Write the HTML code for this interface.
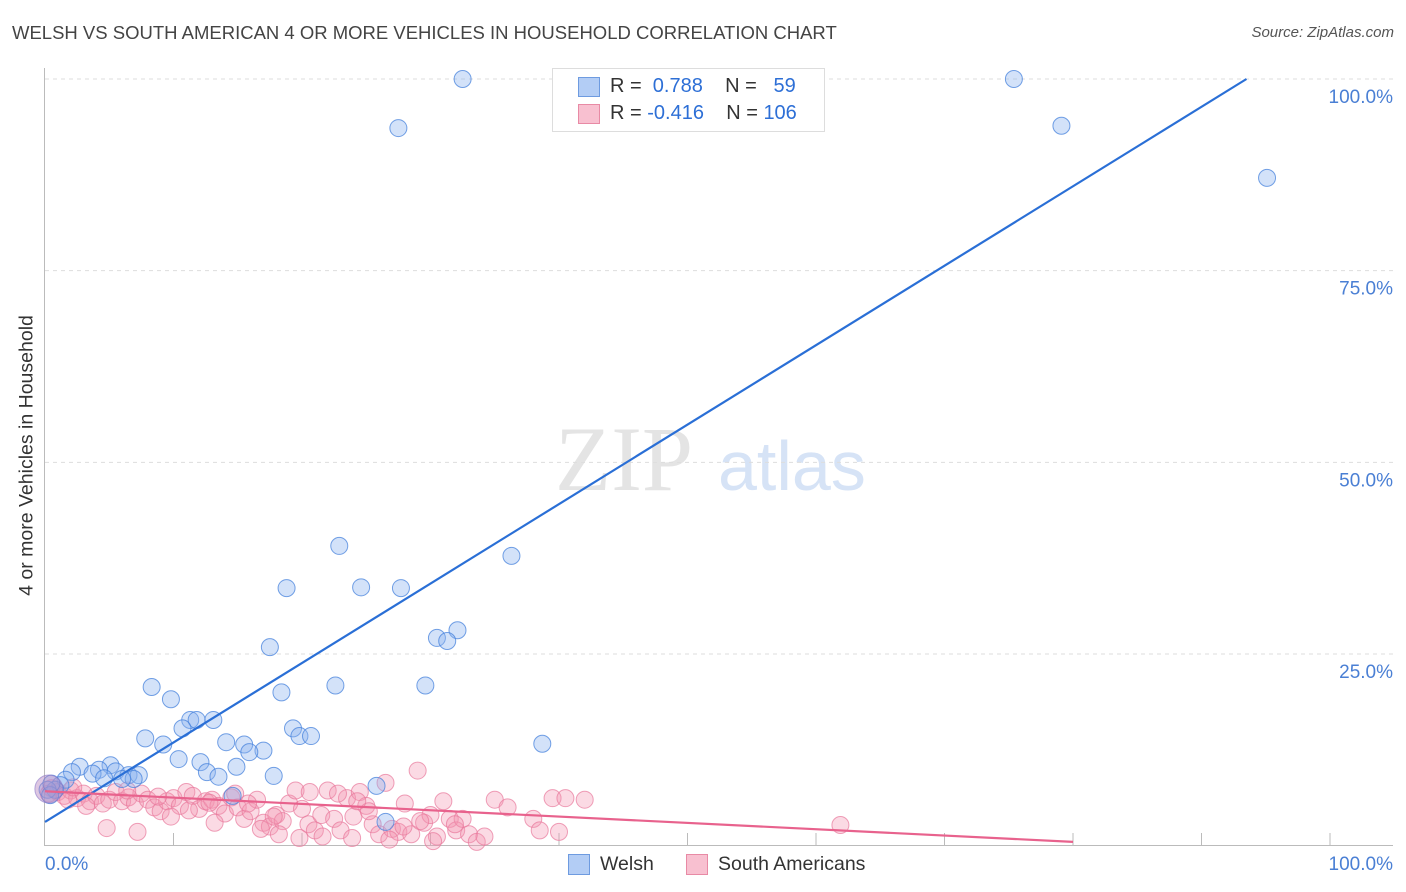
<!DOCTYPE html>
<html><head><meta charset="utf-8"><style>
body{margin:0;background:#fff;font-family:"Liberation Sans",sans-serif}
#wrap{position:relative;width:1406px;height:892px;overflow:hidden}
.t{position:absolute;white-space:nowrap}
</style></head><body>
<div id="wrap">
<div class="t" style="left:12px;top:22px;font-size:18.5px;color:#444">WELSH VS SOUTH AMERICAN 4 OR MORE VEHICLES IN HOUSEHOLD CORRELATION CHART</div>
<div class="t" style="right:12px;top:24px;font-size:15px;color:#555;font-style:italic">Source: ZipAtlas.com</div>
<div class="t" style="left:-123px;top:444px;font-size:19.5px;color:#333;transform:rotate(-90deg);width:300px;text-align:center">4 or more Vehicles in Household</div>
<svg id="svg" width="1406" height="892" style="position:absolute;left:0;top:0"></svg>
<div style="position:absolute;left:552px;top:68px;width:271px;height:62px;border:1px solid #ddd;background:#fff">
 <div style="position:absolute;left:25px;top:8px;width:20px;height:18px;background:#b3cdf5;border:1px solid #6e9be0"></div>
 <div class="t" style="left:57px;top:6px;font-size:20px;color:#333">R = <span style="color:#2d6fd6">&nbsp;0.788</span>&nbsp;&nbsp;&nbsp; N = <span style="color:#2d6fd6">&nbsp;&nbsp;59</span></div>
 <div style="position:absolute;left:25px;top:35px;width:20px;height:18px;background:#f8c0d0;border:1px solid #e88aa5"></div>
 <div class="t" style="left:57px;top:33px;font-size:20px;color:#333">R = <span style="color:#2d6fd6">-0.416</span>&nbsp;&nbsp;&nbsp; N = <span style="color:#2d6fd6">106</span></div>
</div>
<div>
 <div style="position:absolute;left:568px;top:854px;width:20px;height:19px;background:#b3cdf5;border:1px solid #6e9be0"></div>
 <div class="t" style="left:600px;top:853px;font-size:19.5px;color:#333">Welsh</div>
 <div style="position:absolute;left:686px;top:854px;width:20px;height:19px;background:#f8c0d0;border:1px solid #e88aa5"></div>
 <div class="t" style="left:718px;top:853px;font-size:19.5px;color:#333">South Americans</div>
</div>
</div>
<script>
const yTicks=[25,50,75,100];
const yTickLabels=["25.0%","50.0%","75.0%","100.0%"];
const xEndLabels=["0.0%","100.0%"];
const welshX=[32.5,27.5,75.4,79.1,95.1,22.9,36.3,18.8,24.6,27.7,32.1,30.5,31.3,17.5,8.3,9.8,22.6,18.4,29.6,11.3,11.8,13.1,10.7,19.3,19.8,20.7,7.8,9.2,14.1,15.5,17.0,38.7,15.9,10.4,12.1,14.9,12.6,13.5,17.8,5.1,2.7,4.2,2.1,3.7,5.5,6.5,7.3,6.9,6.0,4.6,1.6,1.2,0.8,0.2,25.8,14.6,26.5,0.4,0.5];
const welshY=[100,93.6,100,93.9,87.1,39.1,37.8,33.6,33.7,33.6,28.1,27.1,26.7,25.9,20.7,19.1,20.9,20.0,20.9,16.4,16.4,16.4,15.3,15.3,14.3,14.3,14.0,13.2,13.5,13.2,12.4,13.3,12.2,11.3,10.9,10.3,9.6,9.0,9.1,10.5,10.3,9.9,9.6,9.4,9.7,9.2,9.2,8.7,8.7,8.8,8.6,7.9,7.3,7.3,7.8,6.5,3.1,6.6,8.1];
const saX=[0.5,1,1.5,2,2.5,3,3.5,4,4.5,5,5.5,6,6.5,7,7.5,8,8.5,9,9.5,10,10.5,11,11.5,12,12.5,13,13.5,14,14.5,15,15.5,16,16.5,17,17.5,18,18.5,19,19.5,20,20.5,21,21.5,22,22.5,23,23.5,24,24.5,25,25.5,26,26.5,27,27.5,28,28.5,29,29.5,30,30.5,31,31.5,32,32.5,33,35,36,38,38.5,39.5,40,42,61.9,4.8,7.2,3.2,1.8,9.8,13.2,15.8,16.8,18.2,19.8,21.6,22.8,23.9,25.2,26.8,27.9,29.2,30.2,31.9,33.6,34.2,11.2,8.8,6.4,14.8,12.8,0.3,2.2,17.8,20.6,24.3,40.5];
const saY=[7.5,7,6.5,7.2,6.2,6.8,5.8,6.5,5.5,6,7,5.8,6.3,5.5,6.8,6,5,4.5,5.8,6.2,5.2,7,6.5,4.8,5.8,6,5.2,4.2,6.3,5,3.5,4.5,6,3,2.5,4,3.2,5.5,7.2,4.8,2.8,2,4,7.2,3.5,2,6.2,3.8,7,5.2,2.8,1.5,8.2,2.2,1.8,5.5,1.5,9.8,3,4,1.2,5.8,3.5,2,3.5,1.5,6,5,3.5,2,6.2,1.8,6,2.7,2.3,1.8,5.2,6,3.8,3,5.5,2.2,1.5,1,1.2,6.8,1,4.5,0.8,2.5,3.2,0.6,2.8,0.5,1.2,4.6,6.4,7.2,6.8,5.6,6.8,7.6,3.8,7,5.8,6.2];
const welshTrend=[0,3.1,93.5,100];
const saTrend=[0,7.1,80,0.5];
const X=v=>45+v*12.85, Y=v=>845.7-v*7.667;
const svg=document.getElementById('svg');
const NS='http://www.w3.org/2000/svg';
function mk(tag,at){const e=document.createElementNS(NS,tag);for(const k in at)e.setAttribute(k,at[k]);svg.appendChild(e);return e;}
let w=mk('text',{x:555,y:490,'font-size':92,'font-family':'Liberation Serif,serif',fill:'#e4e4e4'});w.textContent='ZIP';


w=mk('text',{x:718,y:490,'font-size':70,'font-family':'Liberation Sans,sans-serif',fill:'#d6e3f6'});w.textContent='atlas';


yTicks.forEach((t,i)=>{
 const g=mk('line',{x1:45,x2:1393,y1:Y(t),y2:Y(t),stroke:'#ddd','stroke-dasharray':'4,4'});
 
 
 const l=mk('text',{x:1393,y:Y(t)+24,'text-anchor':'end','font-size':19,fill:'#4a7fd4','font-family':'Liberation Sans,sans-serif'});
 l.textContent=yTickLabels[i];
 
 
});
let ax=mk('line',{x1:45,x2:1393,y1:845.5,y2:845.5,stroke:'#bbb'});


ax=mk('line',{x1:44.5,x2:44.5,y1:68,y2:846,stroke:'#bbb'});


for(let i=1;i<=10;i++){const t=mk('line',{x1:X(i*10),x2:X(i*10),y1:833,y2:846,stroke:'#bbb'});
 
 }
[[0,'start',45],[100,'end',1393]].forEach((d,i)=>{const l=mk('text',{x:d[2],y:870,'text-anchor':d[1],'font-size':19,fill:'#4a7fd4','font-family':'Liberation Sans,sans-serif'});
 l.textContent=xEndLabels[i];
 
 });
saX.forEach((x,i)=>{const c=mk('circle',{cx:X(x),cy:Y(saY[i]),r:8.5,fill:'rgba(244,150,178,0.35)',stroke:'rgba(232,120,155,0.7)','stroke-width':1});
 
 });
welshX.forEach((x,i)=>{const c=mk('circle',{cx:X(x),cy:Y(welshY[i]),r:8.5,fill:'rgba(140,180,240,0.38)',stroke:'rgba(70,130,220,0.75)','stroke-width':1});
 
 });
let big=mk('circle',{cx:X(0.3),cy:Y(7.4),r:14,fill:'rgba(180,130,190,0.45)',stroke:'rgba(140,120,200,0.6)'});


let tl=mk('line',{x1:X(welshTrend[0]),y1:Y(welshTrend[1]),x2:X(welshTrend[2]),y2:Y(welshTrend[3]),stroke:'#2a6fd6','stroke-width':2.2});


tl=mk('line',{x1:X(saTrend[0]),y1:Y(saTrend[1]),x2:X(saTrend[2]),y2:Y(saTrend[3]),stroke:'#e8628d','stroke-width':2.2});


</script>
</body></html>
